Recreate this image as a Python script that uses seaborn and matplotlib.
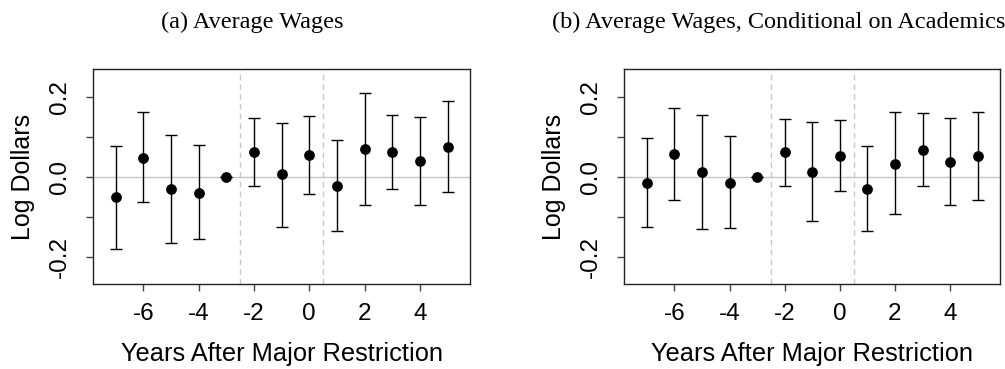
import numpy as np
import pandas as pd
import matplotlib
matplotlib.use("Agg")
import matplotlib.pyplot as plt
import seaborn as sns

years = [-7, -6, -5, -4, -3, -2, -1, 0, 1, 2, 3, 4, 5]

# (a) Average Wages
est_a = [-0.051, 0.048, -0.030, -0.039, 0.0, 0.061, 0.007, 0.054, -0.022, 0.070, 0.062, 0.039, 0.075]
lo_a = [-0.180, -0.063, -0.166, -0.156, 0.0, -0.023, -0.124, -0.043, -0.136, -0.071, -0.031, -0.071, -0.037]
hi_a = [0.076, 0.161, 0.105, 0.079, 0.0, 0.146, 0.135, 0.151, 0.091, 0.210, 0.154, 0.149, 0.188]

# (b) Average Wages, Conditional on Academics
est_b = [-0.016, 0.056, 0.012, -0.014, 0.0, 0.061, 0.012, 0.053, -0.029, 0.033, 0.068, 0.037, 0.052]
lo_b = [-0.126, -0.057, -0.129, -0.127, 0.0, -0.023, -0.110, -0.035, -0.135, -0.093, -0.022, -0.071, -0.057]
hi_b = [0.097, 0.171, 0.155, 0.101, 0.0, 0.144, 0.138, 0.141, 0.077, 0.161, 0.159, 0.148, 0.163]

titles = ["(a) Average Wages", "(b) Average Wages, Conditional on Academics"]
xticks = [-6, -4, -2, 0, 2, 4]
yticks = [-0.2, -0.1, 0.0, 0.1, 0.2]
ytick_labels = ["-0.2", "", "0.0", "", "0.2"]
vlines = [-2.5, 0.5]

sns.set_theme(style="ticks")
plt.rcParams["font.family"] = ["Liberation Sans", "DejaVu Sans"]
plt.rcParams["text.color"] = "black"
plt.rcParams["axes.labelcolor"] = "black"
plt.rcParams["xtick.color"] = "black"
plt.rcParams["ytick.color"] = "black"

fig = plt.figure(figsize=(10.05, 3.69), dpi=100)
ax_a = fig.add_axes([0.0925, 0.2304, 0.3752, 0.5826])
ax_b = fig.add_axes([0.6212, 0.2304, 0.3738, 0.5826])

panels = [(ax_a, est_a, lo_a, hi_a), (ax_b, est_b, lo_b, hi_b)]
for ax, est, lo, hi in panels:
    df = pd.DataFrame({"year": years, "est": est, "lo": lo, "hi": hi})
    ax.axhline(0, color="#c4c4c4", lw=1, zorder=1)
    for v in vlines:
        ax.axvline(v, color="#c8c8c8", lw=1, ls=(0, (4, 3)), zorder=1)
    yerr = np.vstack([df["est"] - df["lo"], df["hi"] - df["est"]])
    ax.errorbar(df["year"], df["est"], yerr=yerr, fmt="none", ecolor="black",
                elinewidth=1, capsize=4, capthick=1, zorder=2)
    sns.scatterplot(data=df, x="year", y="est", ax=ax, color="black", s=60,
                    edgecolor="black", linewidth=0, zorder=3)
    ax.set_xlim(-7.82, 5.81)
    ax.set_ylim(-0.267, 0.269)
    ax.set_xticks(xticks)
    ax.set_xticklabels([str(t) for t in xticks])
    ax.set_yticks(yticks)
    ax.set_yticklabels(ytick_labels, rotation=90, va="center")
    ax.tick_params(axis="both", length=5, width=1, color="#444444",
                   labelcolor="black", labelsize=17.5)
    ax.tick_params(axis="x", pad=9)
    ax.tick_params(axis="y", pad=11)
    for sp in ax.spines.values():
        sp.set_visible(True)
        sp.set_color("#222222")
        sp.set_linewidth(1)
    ax.set_xlabel("Years After Major Restriction", fontsize=18.3, labelpad=12)
    ax.set_ylabel("Log Dollars", fontsize=18, labelpad=10)

fig.text(0.251, 0.94, titles[0], ha="center", va="center", fontsize=17.5,
         family=["Liberation Serif", "DejaVu Serif"])
fig.text(0.549, 0.94, titles[1], ha="left", va="center", fontsize=17.5,
         family=["Liberation Serif", "DejaVu Serif"])

fig.savefig("out.png", dpi=100, facecolor="white")
